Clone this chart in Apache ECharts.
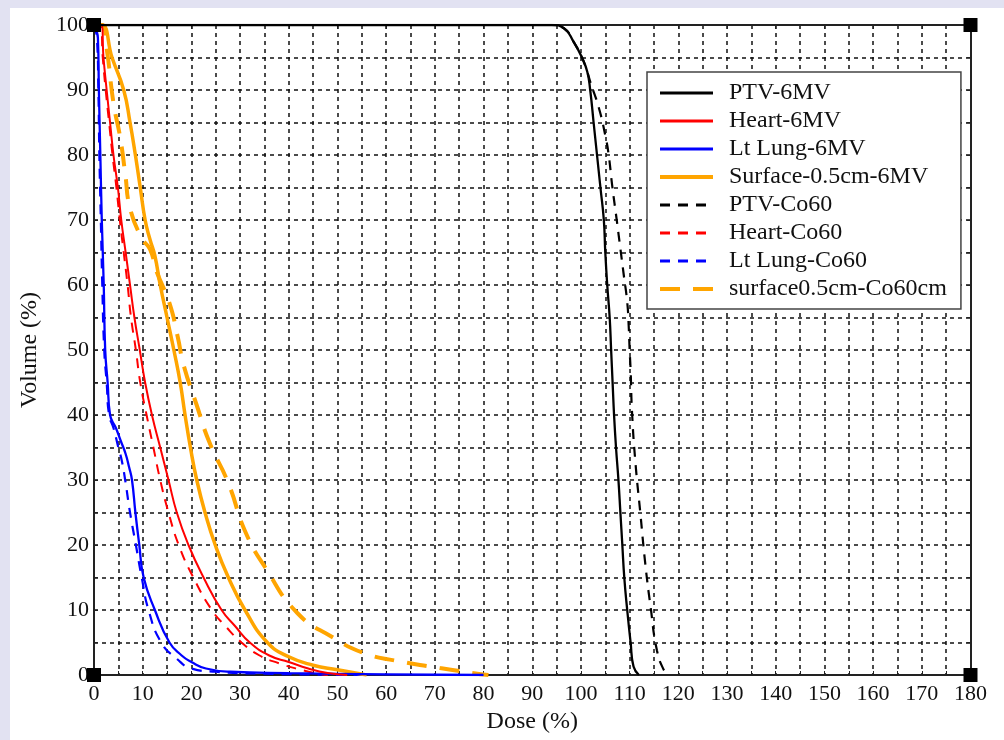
<!DOCTYPE html>
<html>
<head>
<meta charset="utf-8">
<script src="https://cdn.jsdelivr.net/npm/echarts@6/dist/echarts.min.js"></script>
<style>
  html, body { margin: 0; padding: 0; background: #e2e2f2; width: 1004px; height: 740px; overflow: hidden; }
  #chart { position: absolute; left: 10px; top: 8px; width: 994px; height: 732px; background: #ffffff; }
</style>
</head>
<body>
<div id="chart"></div>
<script>
// ---- Data: [dose (%), volume (%)] ----
const seriesNames = ['PTV-6MV', 'Heart-6MV', 'Lt Lung-6MV', 'Surface-0.5cm-6MV',
                     'PTV-Co60', 'Heart-Co60', 'Lt Lung-Co60', 'surface0.5cm-Co60cm'];

const ptv6MV = [[0,100],[94,100],[96.5,99.5],[98.5,97.4],[100.2,95],[101.3,92.8],[101.9,90],[102.6,85],[103.3,80],[104,75],[104.7,70],[105,65],[105.4,60],[105.9,55],[106.2,50],[106.5,45],[106.8,40],[107.2,35],[107.7,30],[108.1,25],[108.5,20],[108.9,15],[109.5,10],[110.2,5],[110.8,1.3],[111.9,0]];
const heart6MV = [[0,100],[1.5,100],[1.95,95],[2.6,90],[3.3,85],[4,80],[4.9,75],[5.6,70],[6.5,65],[7.4,60],[8.3,55],[9.4,50],[10.5,45],[11.9,40],[13.6,35],[15.3,30],[17,25],[19.4,20],[22.5,15],[26.2,10],[29,7.5],[32,5],[36,3],[40,2],[44,1],[48,0.3],[52,0]];
const lung6MV = [[0,100],[0.8,98],[1.0,90],[1.3,80],[1.6,70],[2.0,60],[2.3,50],[2.8,45],[3.3,40],[4.5,38],[5.5,36],[6.5,34],[7.2,32],[7.8,30],[8.5,25],[9.3,20],[10.2,15],[12.5,10],[15.5,5],[18,3],[20,2],[23,1],[28,0.5],[40,0.3],[60,0.1],[80,0]];
const surface6MV = [[0,100],[1.6,100],[3.7,95],[6.1,90],[7.4,85],[8.5,80],[9.5,75],[10.5,70],[11.5,67],[12.5,64.5],[13.6,60],[15,55],[16.4,50],[17.7,45],[18.7,40],[19.8,35],[21.1,30],[22.8,25],[24.9,20],[27.6,15],[31,10],[35.6,5],[40,2.8],[45,1.5],[50,0.8],[56,0]];
const ptvCo60 = [[0,100],[94,100],[96.5,99.5],[98.5,97.4],[100.2,95],[101.3,92.8],[101.9,91.3],[103.7,87.2],[105,83],[105.7,80],[106.4,75.4],[107.4,69.7],[108.1,65.6],[108.8,61.5],[109.5,57.4],[109.8,53.8],[110,50],[110.2,46.9],[110.5,40.3],[111.2,32.6],[112.2,24.9],[113.2,17.2],[114.3,10.5],[115.6,3.8],[117,0.8],[118,0]];
const heartCo60 = [[0,100],[1.3,100],[1.8,95],[2.4,90],[3.1,85],[3.8,80],[4.6,75],[5.3,70],[6.1,65],[6.9,60],[7.6,55],[8.6,50],[9.5,45],[10.8,40],[12.2,35],[13.6,30],[15.3,25],[17.4,20],[20.4,15],[24.2,10],[27,7.5],[30.3,5],[34,3],[38,1.8],[42,0.9],[46,0.2],[48,0]];
const lungCo60 = [[0,100],[0.6,98],[0.9,90],[1.1,80],[1.4,70],[1.7,60],[2.1,50],[2.6,45],[3.1,40],[4,38],[5,35],[5.7,33],[6.4,30],[7.4,25],[8.6,20],[9.8,15],[11.2,10],[13.8,5],[17,2.5],[20,1],[25,0.5],[35,0.2],[55,0]];
const surfaceCo60 = [[0,100],[1.6,100],[2.6,96.4],[4,88],[5.4,82.6],[6.4,77.2],[7.4,71.8],[9.8,67.2],[11.5,65.5],[12.9,62],[15.5,57.2],[17.2,52],[18.4,47.7],[21.1,41.5],[23.7,35.8],[27.6,29.5],[31.1,22],[35.2,16.5],[41.8,9.5],[49,5.8],[55.3,3.4],[62,2.2],[70,1.2],[76,0.5],[81,0]];

const seriesData = [ptv6MV, heart6MV, lung6MV, surface6MV, ptvCo60, heartCo60, lungCo60, surfaceCo60];
const seriesColors = ['#000000', '#ff0000', '#0000ff', '#ffa500', '#000000', '#ff0000', '#0000ff', '#ffa500'];
const seriesWidths = [2.3, 2, 2.3, 3.5, 2.2, 2, 2.2, 4];
const legendWidths = [3, 3, 3, 4, 3, 3, 3, 4];
const seriesDash = ['solid', 'solid', 'solid', 'solid', [10, 8], [10, 8], [10, 8], [20, 13]];

const SERIF = '"Liberation Serif", "DejaVu Serif", serif';
const gridLine = { show: true, lineStyle: { color: '#111', width: 1.5, type: [4, 4] } };
const axisLineStyle = { show: true, onZero: false, lineStyle: { color: '#222', width: 2 } };

const chart = echarts.init(document.getElementById('chart'), null, { renderer: 'canvas' });

const option = {
  animation: false,
  backgroundColor: '#ffffff',
  grid: { left: 83.5, right: 33.5, top: 17, bottom: 65, containLabel: false },
  legend: {
    orient: 'vertical',
    left: 637, top: 64,
    padding: [9, 14, 8, 11],
    backgroundColor: '#ffffff',
    borderColor: '#444',
    borderWidth: 1.5,
    borderRadius: 0,
    itemWidth: 53, itemHeight: 14,
    itemGap: 4,
    itemStyle: { opacity: 0 },
    data: seriesNames.map((n, i) => ({ name: n, lineStyle: { width: legendWidths[i] } })),
    textStyle: { fontFamily: SERIF, fontSize: 24, color: '#111', lineHeight: 24, padding: [0, 0, 0, 11] }
  },
  xAxis: [
    {
      type: 'value', position: 'bottom', min: 0, max: 180, interval: 10,
      name: 'Dose (%)', nameLocation: 'middle', nameGap: 34,
      nameTextStyle: { fontFamily: SERIF, fontSize: 24, color: '#111' },
      axisLine: axisLineStyle,
      axisTick: { show: true, inside: true, length: 4, lineStyle: { color: '#222' } },
      minorTick: { show: true, splitNumber: 2, length: 4, lineStyle: { color: '#222' } },
      axisLabel: { fontFamily: SERIF, fontSize: 22, color: '#111', margin: 8 },
      splitLine: gridLine,
      minorSplitLine: gridLine
    },
    {
      type: 'value', position: 'top', min: 0, max: 180, interval: 10,
      axisLine: axisLineStyle,
      axisTick: { show: true, inside: true, length: 4, lineStyle: { color: '#222' } },
      axisLabel: { show: false },
      splitLine: { show: false }
    }
  ],
  yAxis: [
    {
      type: 'value', position: 'left', min: 0, max: 100, interval: 10,
      name: 'Volume (%)', nameLocation: 'middle', nameGap: 52,
      nameTextStyle: { fontFamily: SERIF, fontSize: 24, color: '#111' },
      axisLine: axisLineStyle,
      axisTick: { show: true, inside: true, length: 4, lineStyle: { color: '#222' } },
      minorTick: { show: true, splitNumber: 2, length: 4, lineStyle: { color: '#222' } },
      axisLabel: { fontFamily: SERIF, fontSize: 22, color: '#111', margin: 5 },
      splitLine: gridLine,
      minorSplitLine: gridLine
    },
    {
      type: 'value', position: 'right', min: 0, max: 100, interval: 10,
      axisLine: axisLineStyle,
      axisTick: { show: true, inside: true, length: 4, lineStyle: { color: '#222' } },
      minorTick: { show: true, splitNumber: 2, length: 4, lineStyle: { color: '#222' } },
      axisLabel: { show: false },
      splitLine: { show: false }
    }
  ],
  series: seriesNames.map((name, i) => ({
    name: name,
    type: 'line',
    xAxisIndex: 0, yAxisIndex: 0,
    data: seriesData[i],
    symbol: 'none',
    showSymbol: false,
    smooth: 0.5,
    clip: true,
    z: 3 + (7 - i),
    color: seriesColors[i],
    lineStyle: { color: seriesColors[i], width: seriesWidths[i], type: seriesDash[i] }
  }))
};

chart.setOption(option);

// corner markers of the original figure
const corners = [[0, 0], [0, 100], [180, 0], [180, 100]].map(c => chart.convertToPixel({ xAxisIndex: 0, yAxisIndex: 0 }, c));
chart.setOption({
  graphic: corners.map(p => ({
    type: 'rect', z: 100,
    shape: { x: p[0] - 7, y: p[1] - 7, width: 14, height: 14 },
    style: { fill: '#000' }
  }))
});
</script>
</body>
</html>
